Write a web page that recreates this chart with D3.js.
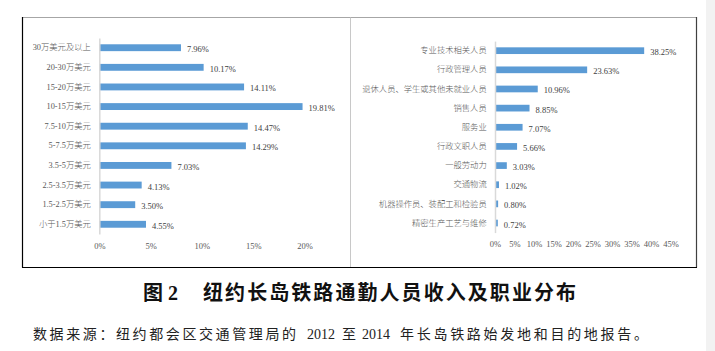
<!DOCTYPE html>
<html>
<head>
<meta charset="utf-8">
<script src="https://cdn.jsdelivr.net/npm/d3@7"></script>
<style>
    body { margin:0; background:#fff; }
    svg { display:block; }
</style>
</head>
<body>
<svg id="drawing_region"></svg>
<script>
// 收入分布
const incomeCats = ["30万美元及以上","20-30万美元","15-20万美元","10-15万美元","7.5-10万美元","5-7.5万美元","3.5-5万美元","2.5-3.5万美元","1.5-2.5万美元","小于1.5万美元"];
const incomeVals = [7.96, 10.17, 14.11, 19.81, 14.47, 14.29, 7.03, 4.13, 3.50, 4.55];
const incomeTicks = [0, 5, 10, 15, 20];

// 职业分布
const jobCats = ["专业技术相关人员","行政管理人员","退休人员、学生或其他未就业人员","销售人员","服务业","行政文职人员","一般劳动力","交通物流","机器操作员、装配工和检验员","精密生产工艺与维修"];
const jobVals = [38.25, 23.63, 10.96, 8.85, 7.07, 5.66, 3.03, 1.02, 0.80, 0.72];
const jobTicks = [0, 5, 10, 15, 20, 25, 30, 35, 40, 45];

// 标题与来源 (分段, 数字单独排)
const titleParts = ["图", "2", "纽约长岛铁路通勤人员收入及职业分布"];
const sourceParts = ["数据来源：纽约都会区交通管理局的", "2012", "至", "2014", "年长岛铁路始发地和目的地报告。"];

const FONT = "'Liberation Serif','Times New Roman','Noto Sans CJK SC',serif";

const svg = d3.select('#drawing_region')
    .attr('width', 715)
    .attr('height', 351);

// page edge strip on the right
svg.append('rect')
    .attr('x', 706).attr('y', 0).attr('width', 9).attr('height', 351)
    .attr('fill', '#f2f2f2');

// frame
const frame = svg.append('g');
frame.append('line').attr('x1', 22.5).attr('x2', 697).attr('y1', 17.5).attr('y2', 17.5)
    .attr('stroke', '#a6a6a6').attr('stroke-width', 1);
frame.append('line').attr('x1', 350.5).attr('x2', 350.5).attr('y1', 17.5).attr('y2', 267)
    .attr('stroke', '#c8c8c8').attr('stroke-width', 1);
frame.append('line').attr('x1', 22.5).attr('x2', 22.5).attr('y1', 17).attr('y2', 267.5)
    .attr('stroke', '#000').attr('stroke-width', 1.2);
frame.append('line').attr('x1', 696.5).attr('x2', 696.5).attr('y1', 17).attr('y2', 267.5)
    .attr('stroke', '#404040').attr('stroke-width', 1.2);
frame.append('line').attr('x1', 22).attr('x2', 697).attr('y1', 267.5).attr('y2', 267.5)
    .attr('stroke', '#000').attr('stroke-width', 1.2);

class BarChart {

    constructor( config, cats, vals, ticks ) {
        this.config = config;
        this.cats = cats;
        this.vals = vals;
        this.ticks = ticks;
        this.init();
    }

    init() {
        let self = this;
        const c = self.config;

        self.chart = svg.append('g');

        self.xscale = d3.scaleLinear()
            .domain( [0, d3.max(self.ticks)] )
            .range( [c.x0, c.x1] );

        self.yscale = d3.scaleBand()
            .domain( self.cats )
            .range( [c.y0, c.y1] )
            .paddingInner( 0.65 )
            .paddingOuter( 0.325 );

        self.render();
    }

    render() {
        let self = this;
        const c = self.config;

        self.chart.selectAll('rect.bar')
            .data( self.cats )
            .join('rect')
            .attr('class', 'bar')
            .attr('x', self.xscale(0))
            .attr('y', d => self.yscale(d))
            .attr('width', (d, i) => self.xscale(self.vals[i]) - self.xscale(0))
            .attr('height', self.yscale.bandwidth())
            .attr('fill', '#5b9bd5');

        self.chart.selectAll('text.val')
            .data( self.cats )
            .join('text')
            .attr('class', 'val')
            .attr('x', (d, i) => self.xscale(self.vals[i]) + 6)
            .attr('y', d => self.yscale(d) + self.yscale.bandwidth() / 2 + 4.5)
            .attr('font-family', FONT)
            .attr('font-size', '8.5px')
            .attr('fill', '#404040')
            .text((d, i) => self.vals[i].toFixed(2) + '%');

        const yaxis = d3.axisLeft( self.yscale )
            .tickSize(0)
            .tickPadding( c.labelPad );

        const yg = self.chart.append('g')
            .attr('transform', `translate(${self.xscale(0)}, 0)`)
            .call( yaxis );
        yg.select('.domain')
            .attr('stroke', '#d9d9d9')
            .attr('stroke-width', 1.5);
        yg.selectAll('text')
            .attr('font-family', FONT)
            .attr('font-size', '8.3px')
            .attr('font-weight', 300)
            .attr('fill', '#595959');

        const xaxis = d3.axisBottom( self.xscale )
            .tickValues( self.ticks )
            .tickSize(0)
            .tickPadding(3)
            .tickFormat( d => d + '%' );

        const xg = self.chart.append('g')
            .attr('transform', `translate(0, ${c.tickY})`)
            .call( xaxis );
        xg.select('.domain').remove();
        xg.selectAll('text')
            .attr('font-family', FONT)
            .attr('font-size', '8.5px')
            .attr('fill', '#595959');
    }
}

new BarChart( { x0: 99.3, x1: 304.5, y0: 37.9, y1: 234.1, labelPad: 8.5, tickY: 240 },
    incomeCats, incomeVals, incomeTicks );

new BarChart( { x0: 495, x1: 670.5, y0: 41.1, y1: 232.6, labelPad: 8.3, tickY: 238 },
    jobCats, jobVals, jobTicks );

// title
const title = svg.append('text')
    .attr('y', 300)
    .attr('font-family', FONT)
    .attr('font-size', '20px')
    .attr('font-weight', 700)
    .attr('fill', '#111');
const titleX = [143, 168, 203];
const titleLen = [null, null, 373];
titleParts.forEach( (t, i) => {
    const ts = title.append('tspan')
        .attr('x', titleX[i])
        .text(t);
    if (titleLen[i]) ts.attr('textLength', titleLen[i]).attr('lengthAdjust', 'spacing');
});

// source
const source = svg.append('text')
    .attr('y', 339)
    .attr('font-family', FONT)
    .attr('font-size', '14px')
    .attr('fill', '#222');
const sourceX = [33, 307, 342, 362, 400];
const sourceLen = [263, null, null, null, 248];
sourceParts.forEach( (t, i) => {
    const ts = source.append('tspan')
        .attr('x', sourceX[i])
        .text(t);
    if (sourceLen[i]) ts.attr('textLength', sourceLen[i]).attr('lengthAdjust', 'spacing');
});
</script>
</body>
</html>
